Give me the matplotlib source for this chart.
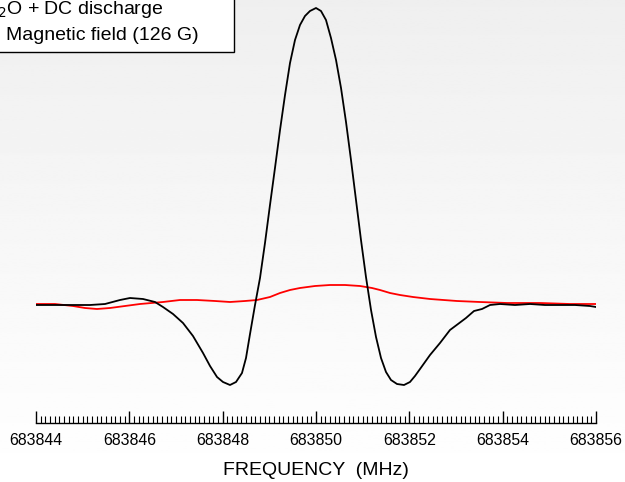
import numpy as np
import matplotlib
matplotlib.use("Agg")
import matplotlib.pyplot as plt

plt.rcParams["font.family"] = ["Liberation Sans", "DejaVu Sans"]

F0 = 683844.0

# frequency offsets (MHz from 683844) and signal (a.u.)
black_df = [0.00, 0.514, 1.157, 1.479, 1.80, 2.014, 2.293, 2.55, 2.721, 2.936,
            3.15, 3.364, 3.579, 3.729, 3.879, 4.007, 4.157, 4.286, 4.414, 4.50,
            4.586, 4.693, 4.80, 4.907, 5.014, 5.121, 5.229, 5.336, 5.443, 5.55,
            5.657, 5.764, 5.871, 6.0, 6.107, 6.214, 6.321, 6.429, 6.536, 6.643,
            6.75, 6.857, 6.964, 7.071, 7.179, 7.286, 7.393, 7.50, 7.607, 7.736,
            7.886, 8.014, 8.121, 8.229, 8.443, 8.657, 8.871, 9.043, 9.214, 9.386,
            9.557, 9.729, 9.943, 10.264, 10.586, 10.907, 11.229, 11.55, 11.871, 12.0]
black_sig = [-2, -2, -2, -1, 3, 5, 4, 1, -4, -11,
             -20, -33, -50, -63, -74, -79, -82, -79, -70, -55,
             -31, -2, 25, 60, 98, 135, 173, 208, 240, 263,
             278, 287, 292, 295, 292, 283, 265, 243, 215, 181,
             143, 103, 63, 26, -7, -34, -55, -69, -77, -81,
             -82, -79, -73, -66, -52, -40, -27, -21, -15, -8,
             -6, -2, -1, -2, -1, -2, -2, -2, -3, -4]

red_df = [0.0, 0.407, 0.793, 1.05, 1.307, 1.586, 1.907, 2.229, 2.721, 3.086,
          3.45, 3.836, 4.157, 4.479, 4.736, 5.014, 5.229, 5.443, 5.657, 5.979,
          6.30, 6.621, 6.943, 7.20, 7.371, 7.586, 7.80, 8.079, 8.443, 9.021,
          9.514, 10.093, 10.80, 11.443, 12.0]
red_sig = [-1, -1, -3, -5, -6, -5, -3, -1, 1, 3,
           3, 2, 1, 2, 3, 6, 10, 13, 15, 17,
           18, 18, 17, 15, 13, 10, 8, 6, 4, 2,
           1, 0, 0, -1, -1]

legend_lines = ["H$_2$O + DC discharge", "Magnetic field (126 G)"]

fig = plt.figure(figsize=(6.25, 4.82), dpi=100)

# background gradient (light grey at top -> white at bottom)
bg = fig.add_axes([0, 0, 1, 1], zorder=-10)
grad = np.linspace(1.0, 0.937, 256).reshape(-1, 1)
bg.imshow(grad, aspect="auto", cmap="gray", vmin=0, vmax=1,
          extent=[0, 1, 0, 1], origin="lower")
bg.set_axis_off()

ax = fig.add_axes([36 / 625, 59 / 482, 560 / 625, 423 / 482])
ax.set_facecolor("none")

ax.plot(F0 + np.array(red_df), red_sig, color="#ff0000", lw=1.3)
ax.plot(F0 + np.array(black_df), black_sig, color="black", lw=1.3)

ax.set_xlim(F0, F0 + 12)
ax.set_ylim(-120, 303)

for s in ["left", "right", "top"]:
    ax.spines[s].set_visible(False)
ax.spines["bottom"].set_linewidth(1.0)
ax.set_yticks([])
ax.set_xticks(np.arange(F0, F0 + 12.01, 2))
ax.set_xticks(np.arange(F0, F0 + 12.01, 0.1), minor=True)
ax.tick_params(axis="x", which="major", direction="in", length=9, width=1.0,
               labelsize=11.4, pad=7)
ax.tick_params(axis="x", which="minor", direction="in", length=5, width=0.8)
ax.set_xticklabels([f"{int(v)}" for v in np.arange(F0, F0 + 12.01, 2)])
ax.set_xlabel("FREQUENCY  (MHz)", fontsize=14, labelpad=10)

# cut-off legend box at the top-left
fig.patches.append(plt.Rectangle((-0.05, 1 - 52 / 482), 0.05 + 234 / 625, 0.2,
                                 transform=fig.transFigure, facecolor="white",
                                 edgecolor="black", lw=1.0, zorder=5))
fig.text(-17 / 625, 1 - 9 / 482, legend_lines[0], fontsize=14, va="center",
         ha="left", zorder=6)
fig.text(6 / 625, 1 - 36 / 482, legend_lines[1], fontsize=14, va="center",
         ha="left", zorder=6)

fig.savefig("out.png", dpi=100)
